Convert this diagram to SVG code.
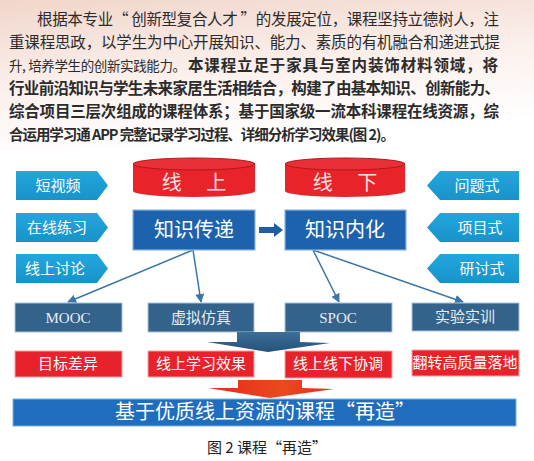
<svg xmlns="http://www.w3.org/2000/svg" width="534" height="461" viewBox="0 0 534 461">
<defs>
<linearGradient id="bg" x1="0" y1="0" x2="0.3" y2="1">
<stop offset="0" stop-color="#f1d6cb"/>
<stop offset="0.55" stop-color="#fbf0ec"/>
<stop offset="1" stop-color="#ffffff"/>
</linearGradient>
<linearGradient id="chev" x1="0" y1="0" x2="0" y2="1">
<stop offset="0" stop-color="#22a6de"/>
<stop offset="1" stop-color="#1893c9"/>
</linearGradient>
<linearGradient id="arrBlue" x1="0" y1="0" x2="0" y2="1">
<stop offset="0" stop-color="#3d6f98"/>
<stop offset="1" stop-color="#24527a"/>
</linearGradient>
<linearGradient id="arrRed" x1="0" y1="0" x2="1" y2="0">
<stop offset="0" stop-color="#e8281e"/>
<stop offset="0.6" stop-color="#ea4a1e"/>
<stop offset="1" stop-color="#e8281e"/>
</linearGradient>
<marker id="ah" viewBox="0 0 10 10" refX="9" refY="5" markerWidth="6" markerHeight="6" orient="auto">
<path d="M0,0 L10,5 L0,10 Z" fill="#3a76a8"/>
</marker>
</defs>
<style>
.para{font-family:"Noto Sans CJK SC","Noto Sans",sans-serif;font-size:15.5px;fill:#2b2b2b}
.b{font-weight:bold}
.chev{fill:url(#chev)}
.ct{font-family:"Noto Sans CJK SC",sans-serif;font-size:15px;fill:#ffffff;text-anchor:middle}
.cyl{fill:#e8232a}
.cyltop{fill:#e93037;stroke:#b5161c;stroke-width:1}
.cylt{font-family:"Noto Sans CJK SC",sans-serif;font-size:20px;fill:#fbe3e3;text-anchor:middle}
.main{fill:#1d62ad;stroke:#8fb6dc;stroke-width:1.2}
.mt{font-family:"Noto Sans CJK SC",sans-serif;font-size:20px;fill:#ffffff;text-anchor:middle}
.sb{fill:#33628b;stroke:#a9c3da;stroke-width:1}
.sbt{font-family:"Liberation Serif","Noto Sans CJK SC",serif;font-size:15px;fill:#e6edf4;text-anchor:middle}
.rb{fill:#e8222a;stroke:#f3a2a2;stroke-width:1}
.rbt{font-family:"Noto Sans CJK SC",sans-serif;font-size:15px;fill:#ffffff;text-anchor:middle}
.conn{stroke:#3a76a8;stroke-width:1.5;fill:none}
</style>
<rect x="0" y="0" width="534" height="461" fill="#ffffff"/>
<rect x="0" y="0" width="534" height="150" fill="url(#bg)"/>

<g id="paragraph">
<text class="para" x="37" y="25" textLength="462" lengthAdjust="spacing">根据本专业“ 创新型复合人才 ”的发展定位，课程坚持立德树人，注</text>
<text class="para" x="9" y="48" textLength="491" lengthAdjust="spacing">重课程思政，以学生为中心开展知识、能力、素质的有机融合和递进式提</text>
<text class="para" x="9" y="71" font-size="13.5" textLength="177" lengthAdjust="spacing" style="font-size:13.5px">升, 培养学生的创新实践能力。</text>
<text class="para b" x="188" y="71" textLength="310" lengthAdjust="spacing">本课程立足于家具与室内装饰材料领域，将</text>
<text class="para b" x="9" y="94" textLength="491" lengthAdjust="spacing">行业前沿知识与学生未来家居生活相结合，构建了由基本知识、创新能力、</text>
<text class="para b" x="9" y="117" textLength="490" lengthAdjust="spacing">综合项目三层次组成的课程体系；基于国家级一流本科课程在线资源，综</text>
<text class="para b" x="9" y="140" textLength="386" lengthAdjust="spacing" style="font-size:14.5px">合运用学习通 APP 完整记录学习过程、详细分析学习效果(图 2)。</text>
</g>

<g id="connectors">
<line class="conn" x1="193" y1="250" x2="68" y2="302" marker-end="url(#ah)"/>
<line class="conn" x1="193" y1="250" x2="201" y2="302" marker-end="url(#ah)"/>
<line class="conn" x1="313" y1="250" x2="339" y2="302" marker-end="url(#ah)"/>
<line class="conn" x1="313" y1="250" x2="463" y2="302" marker-end="url(#ah)"/>
<polygon points="259,227 274,227 274,223 283,230 274,237 274,233 259,233" fill="#1f5f9f"/>
</g>

<g id="short-video"><polygon class="chev" points="16,171 97,171 108,185.5 97,200 16,200"/><text class="ct" x="58" y="191">短视频</text></g>
<g id="online-practice"><polygon class="chev" points="16,213 97,213 108,227.5 97,242 16,242"/><text class="ct" x="57" y="233">在线练习</text></g>
<g id="online-discussion"><polygon class="chev" points="16,254 97,254 108,268.5 97,283 16,283"/><text class="ct" x="55" y="274">线上讨论</text></g>

<g id="problem-based"><polygon class="chev" points="519,171 440,171 427,185.5 440,200 519,200"/><text class="ct" x="477" y="191">问题式</text></g>
<g id="project-based"><polygon class="chev" points="519,213 440,213 427,227.5 440,242 519,242"/><text class="ct" x="480" y="233">项目式</text></g>
<g id="seminar"><polygon class="chev" points="519,254 440,254 427,268.5 440,283 519,283"/><text class="ct" x="482" y="274">研讨式</text></g>

<g id="online-cyl">
<path class="cyl" d="M133,164 L133,191 A61,6 0 0 0 255,191 L255,164 Z"/>
<ellipse class="cyltop" cx="194" cy="164" rx="61" ry="6"/>
<text class="cylt" x="194" y="190">线　 上</text>
</g>
<g id="offline-cyl">
<path class="cyl" d="M285,164 L285,191 A60,6 0 0 0 405,191 L405,164 Z"/>
<ellipse class="cyltop" cx="345" cy="164" rx="60" ry="6"/>
<text class="cylt" x="345" y="190">线　 下</text>
</g>

<g id="knowledge-transfer"><rect class="main" x="133" y="210" width="122" height="40"/><text class="mt" x="194" y="237">知识传递</text></g>
<g id="knowledge-internalize"><rect class="main" x="285" y="210" width="121" height="40"/><text class="mt" x="345" y="237">知识内化</text></g>

<g id="mooc"><rect class="sb" x="15" y="303" width="107" height="29"/><text class="sbt" x="68" y="323">MOOC</text></g>
<g id="virtual-sim"><rect class="sb" x="148" y="303" width="106" height="29"/><text class="sbt" x="201" y="323">虚拟仿真</text></g>
<g id="spoc"><rect class="sb" x="285" y="303" width="107" height="29"/><text class="sbt" x="338" y="323">SPOC</text></g>
<g id="lab-training"><rect class="sb" x="412" y="303" width="107" height="28"/><text class="sbt" x="465" y="322">实验实训</text></g>

<g id="down-arrow-1"><polygon points="237,332 300,332 300,342 330,343 268,352 207,342 237,342" fill="url(#arrBlue)"/></g>

<g id="goal-diff"><rect class="rb" x="15" y="351" width="107" height="26"/><text class="rbt" x="68" y="369">目标差异</text></g>
<g id="online-effect"><rect class="rb" x="148" y="351" width="106" height="26"/><text class="rbt" x="201" y="369">线上学习效果</text></g>
<g id="coordination"><rect class="rb" x="285" y="351" width="107" height="27"/><text class="rbt" x="338" y="369">线上线下协调</text></g>
<g id="flipped"><rect class="rb" x="412" y="350" width="107" height="26"/><text class="rbt" x="465" y="368">翻转高质量落地</text></g>

<g id="down-arrow-2"><polygon points="238,380 302,380 302,388 334,389 270,398 208,388 238,388" fill="url(#arrRed)"/></g>

<g id="bottom-bar"><rect x="13" y="399" width="503" height="27" fill="#1f6dbd" stroke="#7fb0dc" stroke-width="1"/><text x="265" y="419" font-family="Noto Sans CJK SC,sans-serif" font-size="20" fill="#ffffff" text-anchor="middle">基于优质线上资源的课程“再造”</text></g>

<text x="267" y="453" font-family="Noto Sans CJK SC,sans-serif" font-size="15" fill="#222222" text-anchor="middle">图 2 课程“再造”</text>
</svg>
